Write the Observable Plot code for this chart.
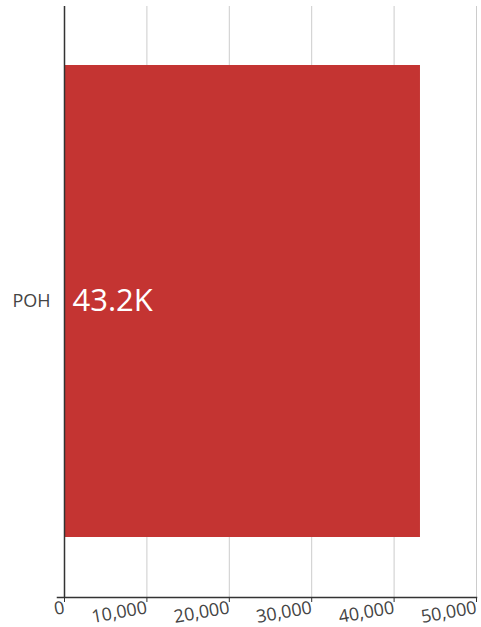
<!DOCTYPE html>
<html><head><meta charset="utf-8">
<script src="https://cdn.jsdelivr.net/npm/d3@7"></script>
<script src="https://cdn.jsdelivr.net/npm/@observablehq/plot@0.6"></script>
<style>body{margin:0;background:#fff;font-family:"Open Sans",sans-serif;}</style>
</head><body><div id="chart"></div>
<script>
const categories = ["POH"];
const values = [43200];
const valueLabels = ["43.2K"];
const xTicks = [0, 10000, 20000, 30000, 40000, 50000];

const data = categories.map((c, i) => ({cat: c, value: values[i], label: valueLabels[i]}));

const chart = Plot.plot({
  width: 481,
  height: 627,
  marginLeft: 64,
  marginRight: 5,
  marginTop: 6,
  marginBottom: 30,
  style: {fontFamily: "Open Sans, sans-serif", background: "#fff"},
  x: {domain: [0, 50000], ticks: xTicks, label: null},
  y: {domain: categories, padding: 0.111, label: null},
  marks: [
    Plot.gridX(xTicks, {stroke: "#cccccc", strokeOpacity: 1, strokeWidth: 1}),
    Plot.barX(data, {x: "value", y: "cat", fill: "#c43432"}),
    Plot.ruleX([0], {stroke: "#333", strokeWidth: 1.5}),
    Plot.frame({anchor: "bottom", stroke: "#333", strokeWidth: 1.5, insetLeft: -7}),
    Plot.axisX(xTicks, {tickFormat: d3.format(","), tickRotate: -10, tickSize: 5, fontSize: 18, fill: "#444", stroke: "#333", tickPadding: 5, label: null}),
    Plot.axisY({tickSize: 0, tickPadding: 14, fontSize: 18, fill: "#444", label: null}),
    Plot.text(data, {x: 0, y: "cat", text: "label", textAnchor: "start", dx: 8, fill: "white", fontSize: 31})
  ]
});
document.getElementById("chart").append(chart);
</script>
</body></html>
